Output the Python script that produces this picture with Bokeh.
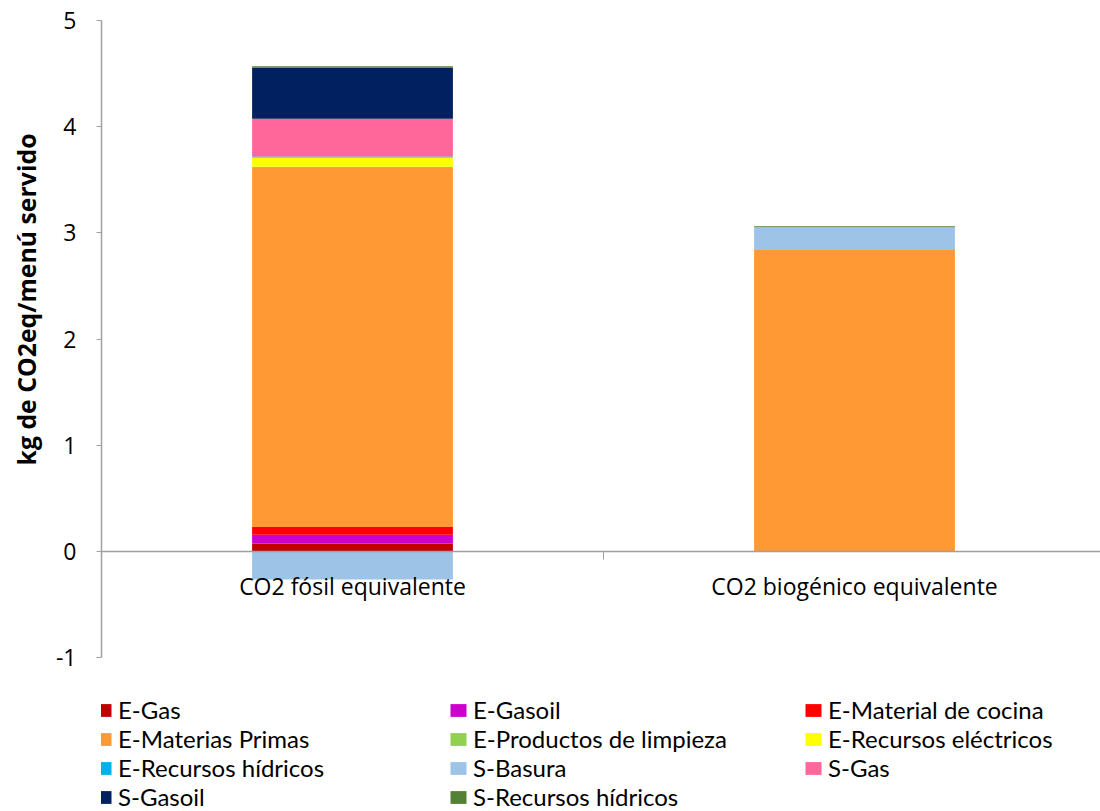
import numpy as np
from bokeh.plotting import figure
from bokeh.models import Range1d, FixedTicker, Legend, LegendItem, Title, LinearAxis
from bokeh.embed import file_html
from bokeh.resources import INLINE

categories = ["CO2 fósil equivalente", "CO2 biogénico equivalente"]
series = ["E-Gas", "E-Gasoil", "E-Material de cocina", "E-Materias Primas",
          "E-Productos de limpieza", "E-Recursos eléctricos", "E-Recursos hídricos",
          "S-Basura", "S-Gas", "S-Gasoil", "S-Recursos hídricos"]
colors = ["#C00000", "#CC00CC", "#FF0000", "#FF9933", "#92D050", "#FFFF00",
          "#00B0F0", "#9DC3E6", "#FF6699", "#002060", "#548235"]
fosil = [0.075, 0.082, 0.075, 3.38, 0.010, 0.088, 0.010, -0.264, 0.355, 0.48, 0.015]
biogenico = [0.0, 0.0, 0.0, 2.84, 0.0, 0.0, 0.0, 0.213, 0.0, 0.0, 0.010]
y_ticks = [-1, 0, 1, 2, 3, 4, 5]
y_title = "kg de CO2eq/menú servido"

FONT = "Open Sans"
LFONT = "Lato"
GRAY = "#A0A0A0"

values = np.array([fosil, biogenico])  # shape (ncat, nseries)
xs = np.arange(len(categories)) + 0.5

# frame extends below the axis range so the legend can sit under the chart
p = figure(width=1100, height=811, output_backend="svg", toolbar_location=None,
           x_range=Range1d(0, 1.99), y_range=Range1d(-2.448, 5),
           min_border_left=101, min_border_right=0, min_border_top=20,
           min_border_bottom=0, x_axis_location=None)
p.outline_line_color = None
p.grid.visible = False

pos = np.zeros(len(categories))
neg = np.zeros(len(categories))
renderers = []
for j, name in enumerate(series):
    v = values[:, j]
    bottom = np.where(v >= 0, pos, neg)
    top = bottom + v
    pos = np.where(v >= 0, top, pos)
    neg = np.where(v < 0, top, neg)
    r = p.vbar(x=xs, bottom=bottom, top=top, width=0.4, fill_color=colors[j],
               line_color=None)
    renderers.append(r)

xa = LinearAxis(fixed_location=0)
xa.ticker = FixedTicker(ticks=list(xs), minor_ticks=[1.0])
xa.major_label_overrides = {float(x): c for x, c in zip(xs, categories)}
xa.major_tick_line_color = None
xa.major_tick_out = 0
xa.major_tick_in = 0
xa.minor_tick_line_color = GRAY
xa.minor_tick_out = 8
xa.minor_tick_in = 0
xa.axis_line_color = GRAY
xa.axis_line_width = 1.5
xa.major_label_text_font = FONT
xa.major_label_text_font_size = "23px"
xa.major_label_text_color = "#000000"
xa.major_label_standoff = 10
p.add_layout(xa, "below")

ya = p.yaxis[0]
ya.bounds = (-1, 5)
ya.ticker = FixedTicker(ticks=y_ticks)
ya.major_label_overrides = {t: str(t) for t in y_ticks}
ya.minor_tick_line_color = None
ya.major_tick_out = 5
ya.major_tick_in = 0
ya.major_tick_line_color = GRAY
ya.axis_line_color = GRAY
ya.axis_line_width = 1.5
ya.major_label_text_font = FONT
ya.major_label_text_font_size = "23px"
ya.major_label_text_color = "#000000"
ya.major_label_standoff = 20

title = Title(text=y_title, align="right", vertical_align="top", offset=113,
              standoff=15, text_font=FONT, text_font_size="24.8px",
              text_font_style="bold", text_color="#000000")
p.add_layout(title, "left")

items = [LegendItem(label=name, renderers=[r]) for name, r in zip(series, renderers)]
legend = Legend(items=items, orientation="horizontal", ncols=3,
                location=(-8, 0), padding=0, margin=0, spacing=0,
                glyph_width=20, glyph_height=16, label_standoff=5,
                label_width=330, label_height=20,
                label_text_font=LFONT, label_text_font_size="24px",
                label_text_color="#000000",
                border_line_color=None, background_fill_alpha=0)
p.add_layout(legend, "center")

open("out.html", "w").write(file_html(p, INLINE))
